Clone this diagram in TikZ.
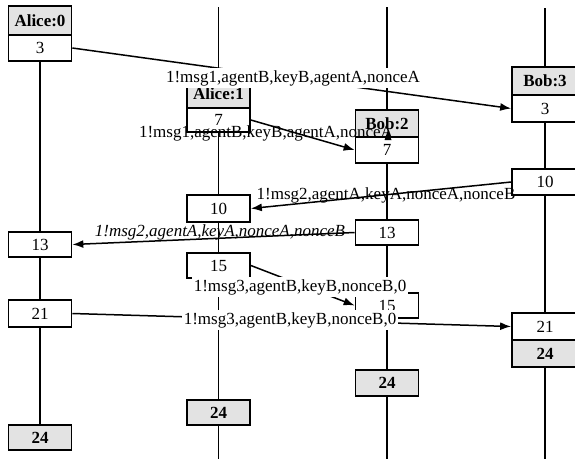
\documentclass[tikz,border=0pt]{standalone}
\usepackage{fontspec}
\setmainfont{Liberation Serif}
\usetikzlibrary{arrows.meta}
\begin{document}
\begin{tikzpicture}[x=1pt,y=-1pt,
  every node/.style={font=\fontsize{17}{20}\selectfont},
  cell/.style={draw, line width=1.7pt, fill=white, minimum width=63pt, inner sep=0pt, anchor=center},
  hdr/.style={cell, fill=gray!22, font=\fontsize{17}{20}\selectfont\bfseries},
  donebox/.style={cell, fill=gray!22, font=\fontsize{17}{20}\selectfont\bfseries},
  life/.style={line width=1.7pt},
  msg/.style={line width=1.5pt, -{Latex[length=11pt,width=8pt]}},
  lblw/.style={fill=white, inner xsep=2pt, inner ysep=2.5pt},
  lbl/.style={inner sep=0pt},
]
\useasboundingbox (0,0) rectangle (575,459);

% ---- boxes ----
\node[hdr, minimum height=29pt] (A0h) at (40,20.5) {Alice:0};
\node[cell, minimum height=26pt] (A0b3) at (40,48) {3};
\node[cell, minimum height=25pt] (A0b13) at (40,244.5) {13};
\node[cell, minimum height=27pt] (A0b21) at (40,313.5) {21};
\node[donebox, minimum height=25pt] (A0b24) at (40,437.5) {24};

\node[hdr, minimum height=28pt] (A1h) at (218.5,94) {Alice:1};
\node[cell, minimum height=24pt] (A1b7) at (218.5,120) {7};
\node[cell, minimum height=27pt] (A1b10) at (218.5,208.5) {10};
\node[cell, minimum height=25pt] (A1b15) at (218.5,265.5) {15};
\node[donebox, minimum height=25pt] (A1b24) at (218.5,412.5) {24};

\node[hdr, minimum height=27pt] (B2h) at (387,123.5) {Bob:2};
\node[cell, minimum height=26pt] (B2b7) at (387,150) {7};
\node[cell, minimum height=25pt] (B2b13) at (387,232.5) {13};
\node[cell, minimum height=25pt] (B2b15) at (387,305.5) {15};
\node[donebox, minimum height=26pt] (B2b24) at (387,383) {24};

\node[hdr, minimum height=28pt, minimum width=66pt] (B3h) at (545,81) {Bob:3};
\node[cell, minimum height=27pt, minimum width=66pt] (B3b3) at (545,108.5) {3};
\node[cell, minimum height=26pt, minimum width=66pt] (B3b10) at (545,182) {10};
\node[cell, minimum height=27pt, minimum width=66pt] (B3b21) at (545,326.5) {21};
\node[donebox, minimum height=27pt, minimum width=66pt] (B3b24) at (545,353.5) {24};

% ---- lifeline ends ----
\coordinate (A1top) at (218.5,7);
\coordinate (B2top) at (387,7);
\coordinate (B3top) at (545,8);
\coordinate (A1bot) at (218.5,459);
\coordinate (B2bot) at (387,459);
\coordinate (B3bot) at (545,459);

% ---- lifelines ----
\draw[life] (A0b3.south) -- (A0b13.north);
\draw[life] (A0b13.south) -- (A0b21.north);
\draw[life] (A0b21.south) -- (A0b24.north);
\draw[life] (A1top) -- (A1h.north);
\draw[life] (A1b7.south) -- (A1b10.north);
\draw[life] (A1b10.south) -- (A1b15.north);
\draw[life] (A1b15.south) -- (A1b24.north);
\draw[life] (A1b24.south) -- (A1bot);
\draw[life] (B2top) -- (B2h.north);
\draw[life] (B2b7.south) -- (B2b13.north);
\draw[life] (B2b13.south) -- (B2b15.north);
\draw[life] (B2b15.south) -- (B2b24.north);
\draw[life] (B2b24.south) -- (B2bot);
\draw[life] (B3top) -- (B3h.north);
\draw[life] (B3b3.south) -- (B3b10.north);
\draw[life] (B3b10.south) -- (B3b21.north);
\draw[life] (B3b24.south) -- (B3bot);

% ---- messages ----
\draw[msg] (A0b3.east) -- (B3b3.west);
\draw[msg] (A1b7.east) -- (B2b7.west);
\draw[msg] (B3b10.west) -- (A1b10.east);
\draw[msg] (B2b13.west) -- (A0b13.east);
\draw[msg] (A1b15.east) -- (B2b15.west);
\draw[msg] (A0b21.east) -- (B3b21.west);

% ---- labels ----
\node[lblw] (L1a) at (293,78) {1!msg1,agentB,keyB,agentA,nonceA};
\node[lbl] (L1b) at (266,133) {1!msg1,agentB,keyB,agentA,nonceA};
\node[lbl] (L2a) at (386,195) {1!msg2,agentA,keyA,nonceA,nonceB};
\node[lbl, font=\fontsize{17}{20}\selectfont\itshape] (L2b) at (220,232) {1!msg2,agentA,keyA,nonceA,nonceB};
\node[lblw] (L3a) at (300,287) {1!msg3,agentB,keyB,nonceB,0};
\node[lblw] (L3b) at (290,320) {1!msg3,agentB,keyB,nonceB,0};

% small arrow mark inside Bob:2
\fill (388,130) -- (384.5,140) -- (391.5,140) -- cycle;
\end{tikzpicture}
\end{document}
